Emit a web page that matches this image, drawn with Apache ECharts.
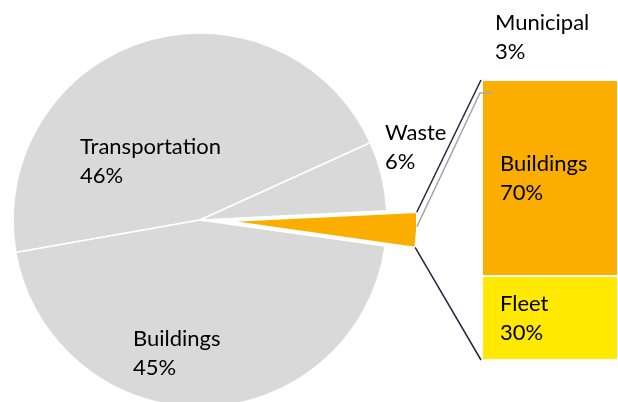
<!DOCTYPE html>
<html>
<head>
<meta charset="utf-8">
<script src="https://cdn.jsdelivr.net/npm/echarts@6/dist/echarts.min.js"></script>
<style>
  html, body { margin: 0; padding: 0; background: #fff; }
  #chart { width: 618px; height: 402px; }
</style>
</head>
<body>
<div id="chart"></div>
<script>
// Emissions by sector (share of total, %)
const sectors = ['Transportation', 'Waste', 'Municipal', 'Buildings'];
const sectorShares = [46, 6, 3, 45];

// Breakdown of the municipal share (%), bottom to top
const municipalParts = ['Fleet', 'Buildings'];
const municipalShares = [30, 70];

const GREY = '#D9D9D9';
const ORANGE = '#FBAD00';
const YELLOW = '#FFE900';
const NAVY = '#1B2A41';
const FONT = 'Lato';
const FONT_SIZE = 22;
const LINE_HEIGHT = 29;

// Pie geometry
const PIE_CENTER = [200, 220];
const PIE_RADIUS = 187;
const START_ANGLE = 190;
const EXPLODE = 30;
const EXPLODED = 'Municipal';

// Bar geometry
const BAR_LEFT = 482, BAR_TOP = 80, BAR_WIDTH = 136, BAR_HEIGHT = 280;

// Label anchors (top-left of each label block)
const pieLabelPos = {
  Transportation: [80, 132],
  Waste: [385, 118],
  Municipal: [495, 8],
  Buildings: [133, 324]
};

const chart = echarts.init(document.getElementById('chart'), null, { renderer: 'canvas' });

const sliceColors = { Transportation: GREY, Waste: GREY, Buildings: GREY, Municipal: ORANGE };
const textStyle = { color: '#000', fontFamily: FONT, fontSize: FONT_SIZE, lineHeight: LINE_HEIGHT };

const option = {
  animation: false,
  backgroundColor: '#fff',
  textStyle: { fontFamily: FONT },
  grid: { left: BAR_LEFT, top: BAR_TOP, width: BAR_WIDTH, height: BAR_HEIGHT },
  xAxis: { type: 'category', data: [''], show: false },
  yAxis: { type: 'value', min: 0, max: 100, show: false },
  series: [
    {
      type: 'pie',
      center: PIE_CENTER,
      radius: PIE_RADIUS,
      startAngle: START_ANGLE,
      clockwise: true,
      silent: true,
      selectedMode: 'single',
      selectedOffset: EXPLODE,
      avoidLabelOverlap: false,
      percentPrecision: 0,
      itemStyle: { borderColor: '#fff', borderWidth: 1.5 },
      label: Object.assign({ show: true, position: 'inside', formatter: '{b}\n{d}%' }, textStyle),
      labelLine: { show: false },
      labelLayout: function (p) {
        const pos = pieLabelPos[sectors[p.dataIndex]];
        return { x: pos[0], y: pos[1], align: 'left', verticalAlign: 'top' };
      },
      data: sectors.map((name, i) => ({
        name: name,
        value: sectorShares[i],
        selected: name === EXPLODED,
        label: { show: name !== EXPLODED },
        itemStyle: { color: sliceColors[name] }
      }))
    },
    ...municipalParts.map((name, i) => ({
      type: 'bar',
      name: name,
      stack: 'municipal',
      barWidth: '100%',
      silent: true,
      itemStyle: { color: i === 0 ? YELLOW : ORANGE, borderColor: '#fff', borderWidth: 1 },
      label: Object.assign({
        show: true,
        position: 'insideLeft',
        distance: 18,
        formatter: '{a}\n{c}%',
        align: 'left'
      }, textStyle),
      data: [municipalShares[i]]
    }))
  ]
};

chart.setOption(option);

// Exploded slice geometry, derived from the shares
const total = sectorShares.reduce((a, b) => a + b, 0);
const idx = sectors.indexOf(EXPLODED);
let a0 = START_ANGLE;
for (let i = 0; i < idx; i++) a0 -= sectorShares[i] / total * 360;
const a1 = a0 - sectorShares[idx] / total * 360;
const mid = (a0 + a1) / 2;
const rad = d => d * Math.PI / 180;
const ox = PIE_CENTER[0] + EXPLODE * Math.cos(rad(mid));
const oy = PIE_CENTER[1] - EXPLODE * Math.sin(rad(mid));
const arcPt = ang => [ox + PIE_RADIUS * Math.cos(rad(ang)), oy - PIE_RADIUS * Math.sin(rad(ang))];
const sliceTop = arcPt(a0);
const sliceBottom = arcPt(a1);
const sliceMid = arcPt(mid + 1);

const barTopLeft = chart.convertToPixel({ gridIndex: 0 }, [0, 100]);
const barBottomLeft = chart.convertToPixel({ gridIndex: 0 }, [0, 0]);
const barLeft = BAR_LEFT;
const muniLabel = pieLabelPos[EXPLODED];

chart.setOption({
  graphic: [
    {
      type: 'text',
      z: 100,
      x: muniLabel[0],
      y: muniLabel[1],
      style: {
        text: sectors[idx] + '\n' + Math.round(sectorShares[idx] / total * 100) + '%',
        fill: '#000',
        font: FONT_SIZE + 'px ' + FONT,
        lineHeight: LINE_HEIGHT,
        textAlign: 'left',
        textVerticalAlign: 'top'
      }
    },
    {
      type: 'polyline',
      z: 100,
      shape: { points: [sliceMid, [barLeft - 2, barTopLeft[1] + 13], [barLeft + 10, barTopLeft[1] + 13]] },
      style: { stroke: '#A6A6A6', lineWidth: 1.5, fill: null }
    },
    {
      type: 'line',
      z: 100,
      shape: { x1: sliceTop[0], y1: sliceTop[1], x2: barLeft - 1, y2: barTopLeft[1] },
      style: { stroke: NAVY, lineWidth: 1.5 }
    },
    {
      type: 'line',
      z: 100,
      shape: { x1: sliceBottom[0], y1: sliceBottom[1], x2: barLeft - 1, y2: barBottomLeft[1] },
      style: { stroke: NAVY, lineWidth: 1.5 }
    }
  ]
});
</script>
</body>
</html>
